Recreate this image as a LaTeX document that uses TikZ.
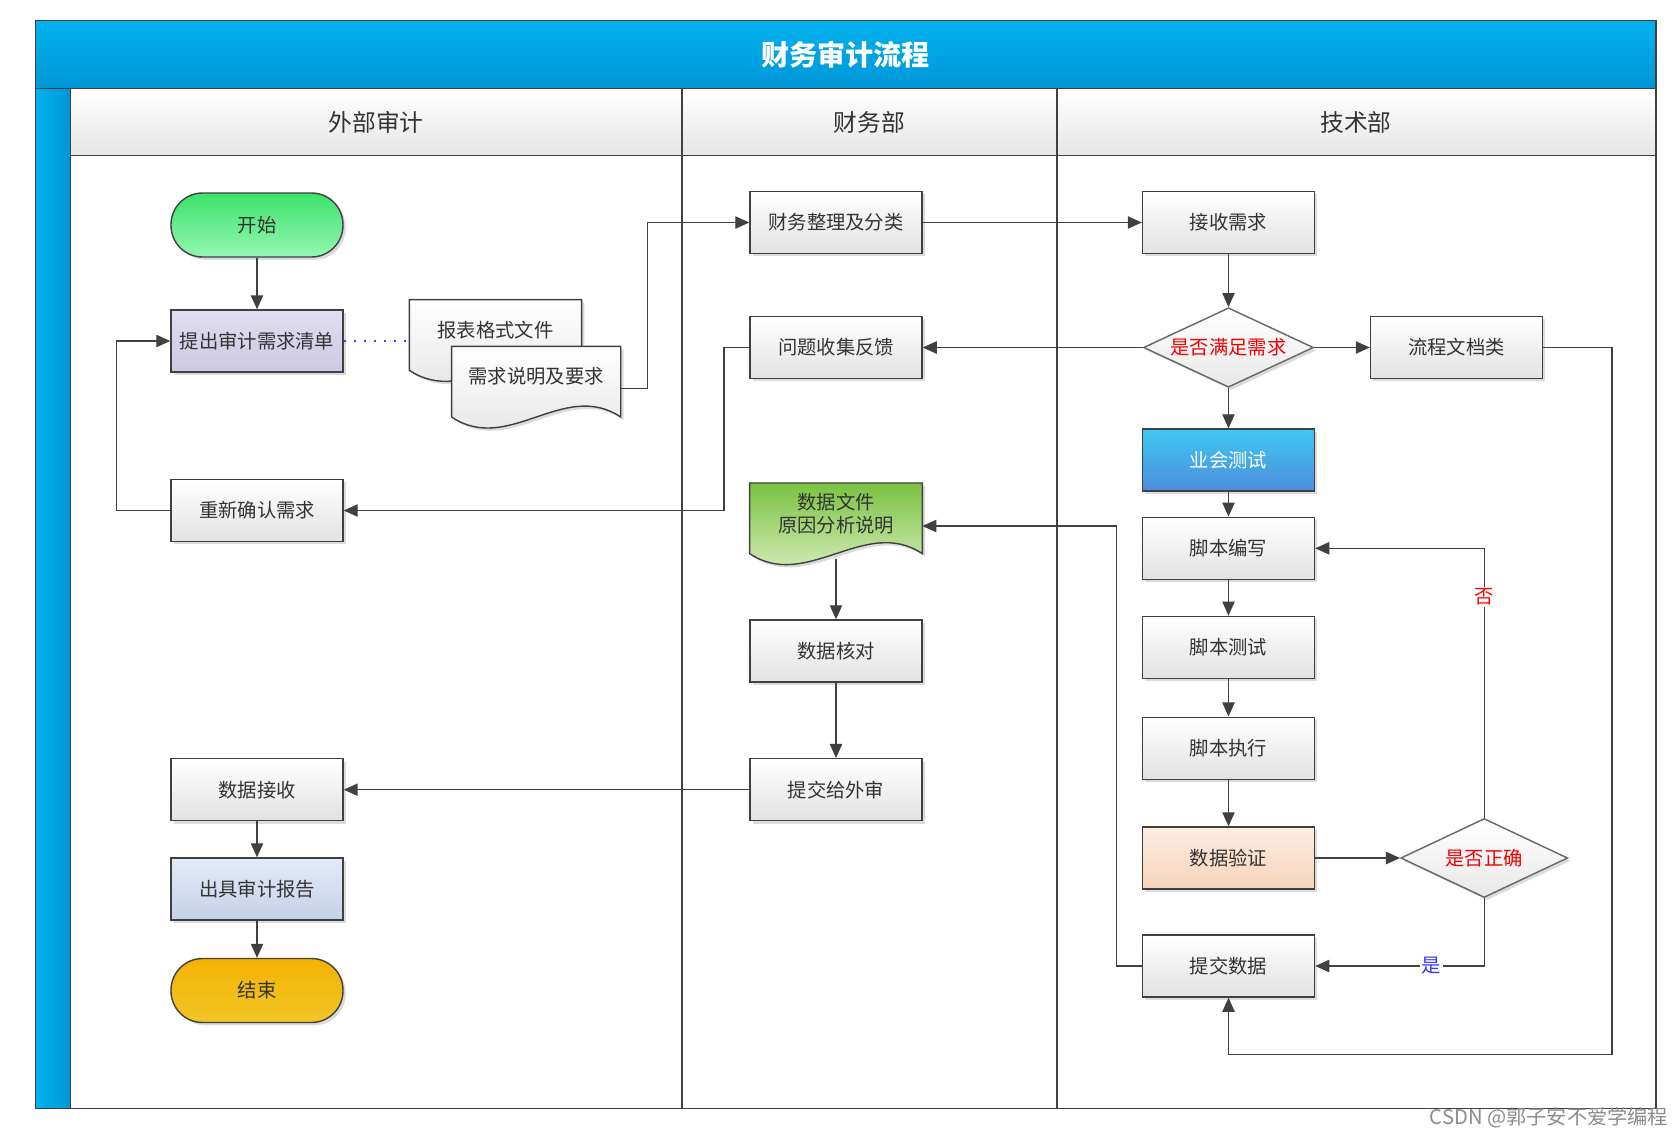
\documentclass[tikz,border=0pt]{standalone}
\usepackage{fontspec}
\newfontfamily\cjkfont{Noto Sans CJK SC}
\usetikzlibrary{arrows.meta,shapes.geometric,shadows,backgrounds,calc}

\definecolor{linegray}{RGB}{64,64,64}
\definecolor{titletop}{RGB}{0,178,238}
\definecolor{titlebot}{RGB}{0,150,214}
\definecolor{headbot}{RGB}{230,230,230}
\definecolor{boxbot}{RGB}{226,226,226}
\definecolor{starttop}{RGB}{60,226,108}
\definecolor{startbot}{RGB}{150,246,178}
\definecolor{stoptop}{RGB}{244,178,0}
\definecolor{stopbot}{RGB}{242,198,40}
\definecolor{reqtop}{RGB}{224,222,240}
\definecolor{reqbot}{RGB}{204,200,226}
\definecolor{reptop}{RGB}{228,234,246}
\definecolor{repbot}{RGB}{198,208,232}
\definecolor{biztop}{RGB}{62,200,240}
\definecolor{bizbot}{RGB}{78,140,222}
\definecolor{vertop}{RGB}{252,238,226}
\definecolor{verbot}{RGB}{246,212,184}
\definecolor{filetop}{RGB}{122,194,66}
\definecolor{filebot}{RGB}{230,245,210}

\begin{document}
\begin{tikzpicture}[x=0.02cm, y=-0.02cm, font=\cjkfont,
    frame/.style={draw=linegray, line width=0.9pt},
    arr/.style={draw=linegray, line width=0.8pt, -{Triangle[length=8pt,width=7pt]}},
    dotline/.style={draw=blue!75, line width=0.9pt, dash pattern=on 1.2pt off 4.5pt},
    boxshadow/.style={drop shadow={shadow xshift=1.6pt, shadow yshift=-1.6pt, opacity=0.28}},
    txt/.style={font=\cjkfont\fontsize{11pt}{13.2pt}\selectfont, text=black!80},
    box/.style={txt, draw=linegray, line width=0.8pt, minimum width=3.44cm,
        minimum height=1.24cm, inner sep=2pt, top color=white, bottom color=boxbot, boxshadow},
    term/.style={box, rounded corners=0.63cm, minimum height=1.28cm},
    decision/.style={txt, diamond, aspect=2.2, draw=black!60, line width=0.8pt, minimum width=3.4cm,
        minimum height=1.59cm, inner sep=0pt, top color=white, bottom color=black!9,
        text=red!95!black, boxshadow},
    doc/.style={txt, align=center, minimum height=1.2cm, inner sep=0pt},
    docshape/.style={draw=linegray, line width=0.8pt, top color=white, bottom color=boxbot, boxshadow},
    greendoc/.style={docshape, top color=filetop, bottom color=filebot},
    lanehead/.style={font=\cjkfont\fontsize{13.5pt}{16pt}\selectfont, text=black!80},
    answer/.style={font=\cjkfont\fontsize{11pt}{13pt}\selectfont, fill=white, inner sep=1pt}]

    % --- НАСТРОЙКИ ---
    \def\xL{35.5}   % левый край рамки
    \def\xR{1655.7} % правый край рамки
    \def\yT{20.7}   % верх рамки
    \def\yB{1108.5} % низ рамки
    \def\yHa{88.3}  % низ заголовка
    \def\yHb{155.7} % низ шапки дорожек
    \def\xS{70.5}   % правый край синей полосы
    \def\xA{682}    % граница 1-2
    \def\xB{1057}   % граница 2-3

    \useasboundingbox (0,0) rectangle (1677,1137);
    \begin{scope}[on background layer]
        \fill[white] (0,0) rectangle (1677,1137);
    \end{scope}

    % --- ДОРОЖКИ ---
    % Заголовок и синяя полоса
    \fill[top color=titletop, bottom color=titlebot] (\xL,\yT) rectangle (\xR,\yHa);
    \node[font=\cjkfont\bfseries\fontsize{16pt}{19pt}\selectfont, text=white] (title) at (845.6,54.5) {财务审计流程};
    \fill[left color=titletop, right color=titlebot] (\xL,\yHa) rectangle (\xS,\yB);

    % Шапка дорожек
    \fill[top color=white, bottom color=headbot] (\xS,\yHa) rectangle (\xR,\yHb);
    \node[lanehead] (laneA) at (376,122) {外部审计};
    \node[lanehead] (laneB) at (869.5,122) {财务部};
    \node[lanehead] (laneC) at (1356,122) {技术部};

    % Линии рамки
    \draw[frame] (\xL,\yT) rectangle (\xR,\yB);
    \draw[frame] (\xL,\yHa) -- (\xR,\yHa);
    \draw[frame] (\xS,\yHa) -- (\xS,\yB);
    \draw[frame] (\xS,\yHb) -- (\xR,\yHb);
    \draw[frame] (\xA,\yHa) -- (\xA,\yB);
    \draw[frame] (\xB,\yHa) -- (\xB,\yB);

    % --- ВНЕШНИЙ АУДИТ ---
    \node[term, top color=starttop, bottom color=startbot] (start) at (257,225) {开始};
    \node[box, top color=reqtop, bottom color=reqbot] (req) at (257,341) {提出审计需求清单};
    \node[doc, minimum width=3.43cm] (fmt) at (495.5,330) {报表格式文件};
    \node[doc, minimum width=3.37cm] (spec) at (536.2,376.7) {需求说明及要求};
    \node[box] (reconfirm) at (257,510.5) {重新确认需求};
    \node[box] (recv) at (257,789.7) {数据接收};
    \node[box, top color=reptop, bottom color=repbot] (report) at (257,889) {出具审计报告};
    \node[term, top color=stoptop, bottom color=stopbot] (stop) at (257,990.5) {结束};

    % --- ФИНАНСОВЫЙ ОТДЕЛ ---
    \node[box] (sort) at (836,222.5) {财务整理及分类};
    \node[box] (feedback) at (836,347.5) {问题收集反馈};
    \node[doc, minimum width=3.44cm] (datafile) at (836,513.3) {数据文件\\原因分析说明};
    \node[box] (check) at (836,651) {数据核对};
    \node[box] (submit) at (836,789.7) {提交给外审};

    % --- ТЕХНИЧЕСКИЙ ОТДЕЛ ---
    \node[box] (recvreq) at (1228.5,222.5) {接收需求};
    \node[decision] (meet) at (1228.5,347.5) {是否满足需求};
    \node[box] (docs) at (1456.5,347.5) {流程文档类};
    \node[box, top color=biztop, bottom color=bizbot, text=white] (biz) at (1228.5,460) {业会测试};
    \node[box] (write) at (1228.5,548.3) {脚本编写};
    \node[box] (test) at (1228.5,647.3) {脚本测试};
    \node[box] (exec) at (1228.5,748.2) {脚本执行};
    \node[box, top color=vertop, bottom color=verbot] (verify) at (1228.5,858) {数据验证};
    \node[decision, minimum width=3.34cm, minimum height=1.58cm] (ok) at (1484.2,858) {是否正确};
    \node[box] (submitdata) at (1228.5,966) {提交数据};

    % Документы с волнистым низом (под текстом)
    \begin{scope}[on background layer]
        \foreach \d/\s in {fmt/docshape, spec/docshape, datafile/greendoc}
            \path[\s] (\d.north west) -- (\d.north east) -- ($(\d.south east)+(0,10)$)
                .. controls ($(\d.south east)+(-57,-28)$) and ($(\d.south west)+(57,48)$)
                .. ($(\d.south west)+(0,10)$) -- cycle;
    \end{scope}

    % --- СВЯЗИ ---
    \draw[arr] (start) -- (req);
    \draw[dotline] (req.east) -- (req.east -| fmt.west);
    \draw[arr] ([yshift=-0.23cm]spec.east) -- ++(26.8,0) |- (sort.west);
    \draw[arr] (sort) -- (recvreq);
    \draw[arr] (recvreq) -- (meet);
    \draw[arr] (meet) -- (feedback);
    \draw[arr] (meet) -- (docs);
    \draw[arr] (meet) -- (biz);
    \draw[arr] (feedback.west) -- ++(-25.4,0) |- (reconfirm.east);
    \draw[arr] (reconfirm.west) -- ++(-53.6,0) |- (req.west);
    \foreach \a/\b in {biz/write, write/test, test/exec, exec/verify}
        \draw[arr] (\a) -- (\b);
    \draw[arr] (verify) -- (ok);
    \draw[arr] (ok.north) |- node[answer, pos=0.41, text=red] (no) {否} (write.east);
    \draw[arr] (ok.south) |- node[answer, pos=0.656, text=blue!80] (yes) {是} (submitdata.east);
    \draw[arr] (submitdata.west) -- ++(-25.5,0) |- ([yshift=-0.254cm]datafile.east);
    \draw[arr] ([yshift=-0.3cm]datafile.south) -- (check);
    \draw[arr] (check) -- (submit);
    \draw[arr] (submit) -- (recv);
    \draw[arr] (recv) -- (report);
    \draw[arr] (report) -- (stop);

    % Обратная петля от 流程文档类 к 提交数据
    \coordinate (loop) at (1228.5,1054.2);
    \draw[arr] (docs.east) -- ++(68.8,0) |- (loop) -- (submitdata);

    % Водяной знак
    \node[font=\cjkfont\fontsize{11.5pt}{14pt}\selectfont, text=black!45] (mark) at (1549,1118) {CSDN @郭子安不爱学编程};

\end{tikzpicture}
\end{document}
